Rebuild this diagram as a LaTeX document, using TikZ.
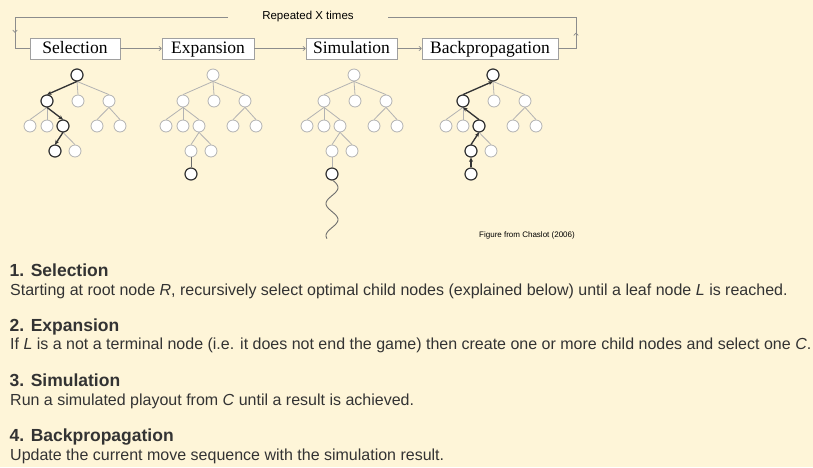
\documentclass[tikz,border=0pt]{standalone}
\usepackage{fontspec}
\setmainfont{Liberation Serif}
\setsansfont{Liberation Sans}
\usepackage{tikz}
\usetikzlibrary{arrows.meta,decorations.markings}
\definecolor{cream}{HTML}{FEF5D8}
\definecolor{inkgrey}{HTML}{333333}
\definecolor{pale}{HTML}{B2B2B2}
\definecolor{hotgrey}{HTML}{333333}
\definecolor{midgrey}{HTML}{6E6E6E}
\definecolor{flowgrey}{HTML}{8C8C8C}
\definecolor{boxgrey}{HTML}{A0A0A0}

\begin{document}
\begin{tikzpicture}[x=1pt,y=-1pt,
	leaf/.style={circle,draw=pale,fill=white,line width=0.8pt,minimum size=12pt,inner sep=0pt},
	ring/.style={draw=hotgrey,fill=white,line width=1.2pt},
	twig/.style={draw=pale,line width=0.8pt},
	walk/.style={draw=hotgrey,line width=1.3pt,-{Stealth[length=4.5pt,width=4pt]}},
	phase/.style={draw=boxgrey,fill=white,line width=0.6pt,font=\fontsize{17.5}{20}\selectfont,
		text height=13pt,text depth=3pt,inner xsep=0pt,inner ysep=2.5pt,minimum height=21pt},
	flow/.style={draw=flowgrey,line width=0.7pt},
	midarrow/.style={postaction={decorate},decoration={markings,
		mark=at position 0.5 with {\arrow{To[length=3pt,width=5pt]}}}},
	head/.style={anchor=base west,inner sep=0pt,text=inkgrey,font=\sffamily\bfseries\fontsize{17.5}{20}\selectfont},
	body/.style={anchor=base west,inner sep=0pt,text=inkgrey,font=\sffamily\fontsize{16}{19}\selectfont}
]
\fill[cream] (0,0) rectangle (813,467);

%phase boxes
\node[phase,minimum width=90pt] (selection) at (75,48.5) {Selection};
\node[phase,minimum width=92pt] (expansion) at (208,48.5) {Expansion};
\node[phase,minimum width=91pt] (simulation) at (351.5,48.5) {Simulation};
\node[phase,minimum width=136pt] (backpropagation) at (490,48.5) {Backpropagation};
\draw[flow,-{To[length=3pt,width=5pt]}] (selection) -- (expansion);
\draw[flow,-{To[length=3pt,width=5pt]}] (expansion) -- (simulation);
\draw[flow,-{To[length=3pt,width=5pt]}] (simulation) -- (backpropagation);

%repeat loop
\node[inner xsep=34pt,inner ysep=0pt,font=\sffamily\fontsize{11.5}{13}\selectfont] (repeat) at (308,17) {Repeated X times};
\coordinate (rbend) at (576,48.5);
\coordinate (rtop) at (576,17);
\coordinate (ltop) at (15,17);
\coordinate (lbend) at (15,48.5);
\draw[flow] (backpropagation.east) -- (rbend);
\draw[flow,midarrow] (rbend) -- (rtop);
\draw[flow] (rtop) -- (repeat.east);
\draw[flow] (repeat.west) -- (ltop);
\draw[flow,midarrow] (ltop) -- (lbend);
\draw[flow] (lbend) -- (selection.west);

%trees
\foreach \tname/\rx in {sel/77,exp/213,sim/354,back/493}{
	\node[leaf] (\tname r) at (\rx,75) {};
	\node[leaf] (\tname p) at (\rx-30,101) {};
	\node[leaf] (\tname q) at (\rx+1,101) {};
	\node[leaf] (\tname s) at (\rx+32,101) {};
	\node[leaf] (\tname pa) at (\rx-47,126) {};
	\node[leaf] (\tname pb) at (\rx-30,126) {};
	\node[leaf] (\tname pc) at (\rx-14,126) {};
	\node[leaf] (\tname sa) at (\rx+20,126) {};
	\node[leaf] (\tname sb) at (\rx+43,126) {};
	\node[leaf] (\tname u) at (\rx-22,151) {};
	\node[leaf] (\tname v) at (\rx-2,151) {};
	\foreach \c in {p,q,s}
		\draw[twig] (\tname r.south) -- (\tname\c.north);
	\foreach \c in {pa,pb,pc}
		\draw[twig] (\tname p.south) -- (\tname\c.north);
	\foreach \c in {sa,sb}
		\draw[twig] (\tname s.south) -- (\tname\c.north);
	\foreach \c in {u,v}
		\draw[twig] (\tname pc.south) -- (\tname\c.north);
	}
%new leaf
\foreach \tname/\rx in {exp/213,sim/354,back/493}{
	\node[leaf,draw=hotgrey,line width=1.2pt] (\tname w) at (\rx-22,174) {};
	}
\draw[draw=midgrey,line width=1pt] (expu.south) -- (expw.north);
\draw[twig] (simu.south) -- (simw.north);
%highlighted path
\foreach \n in {selr,selp,selpc,selu,backr,backp,backpc,backu}
	\draw[ring] (\n) circle (6pt);
\draw[walk] (selr.south) -- (selp.north);
\draw[walk] (selp.south) -- (selpc.north);
\draw[walk] (selpc.south) -- (selu.north);
\draw[walk] (backw.north) -- (backu.south);
\draw[walk] (backu.north) -- (backpc.south);
\draw[walk] (backpc.north) -- (backp.south);
\draw[walk] (backp.north) -- (backr.south);
%playout
\begin{scope}[shift={(simw.south)}]
\draw[draw=midgrey,line width=0.9pt] plot[smooth,domain=0:58,samples=50] ({6*sin(11.25*\x+11.25)},{\x});
\end{scope}

\node[anchor=base west,inner sep=0pt,font=\sffamily\fontsize{8}{9}\selectfont] (credit) at (479,237) {Figure from Chaslot (2006)};

%steps
\node[head] (h1) at (9.5,276) {1. Selection};
\node[body] (b1) at (10,295) {Starting at root node \textit{R}, recursively select optimal child nodes (explained below) until a leaf node \textit{L} is reached.};
\node[head] (h2) at (9.5,331) {2. Expansion};
\node[body] (b2) at (10,349.5) {If \textit{L} is a not a terminal node (i.e. it does not end the game) then create one or more child nodes and select one \textit{C}.};
\node[head] (h3) at (9.5,386.5) {3. Simulation};
\node[body] (b3) at (10,405) {Run a simulated playout from \textit{C} until a result is achieved.};
\node[head] (h4) at (9.5,441) {4. Backpropagation};
\node[body] (b4) at (10,460) {Update the current move sequence with the simulation result.};
\end{tikzpicture}
\end{document}
